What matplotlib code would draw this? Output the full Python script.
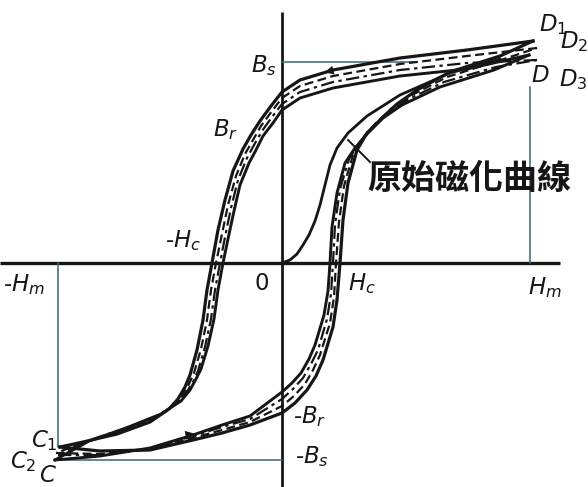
import matplotlib.pyplot as plt

plt.rcParams['mathtext.fontset'] = 'dejavusans'

# H and B in drawing units, origin at the centre of the axes
# loop A: outer solid (D1 - C1)
a_up_h = [251, 185, 118, 51, 18, 0, -11, -22, -31, -39, -49, -57, -64, -70, -75, -79, -85, -92, -97, -104, -113, -132, -165, -199, -222]
a_up_b = [222, 213, 205, 193, 183, 171, 157, 142, 128, 114, 92, 63, 33, 0, -27, -57, -87, -112, -124, -136, -146, -159, -171, -179, -184]
a_lo_h = [-222, -182, -132, -89, -60, -32, 0, 13, 25, 34, 41, 51, 55, 58, 61, 66, 75, 85, 98, 115, 135, 168, 218, 251]
a_lo_b = [-184, -188, -187, -177, -170, -162, -150, -140, -127, -113, -97, -64, -37, 0, 43, 80, 113, 130, 143, 159, 173, 191, 207, 222]

# loop B: dashed (D2 - C2)
b_up_h = [255, 185, 118, 51, 18, 0, -10, -21, -29, -37, -46, -54, -60, -66, -71, -75, -81, -88, -93, -100, -109, -128, -162, -197, -226]
b_up_b = [215, 207, 199, 187, 177, 165, 152, 137, 123, 109, 87, 58, 29, 0, -27, -57, -86, -110, -121, -133, -143, -156, -169, -179, -190]
b_lo_h = [-226, -182, -132, -89, -60, -32, 0, 12, 23, 31, 38, 48, 52, 54, 57, 62, 71, 81, 93, 110, 130, 165, 216, 255]
b_lo_b = [-190, -191, -186, -175, -167, -159, -143, -133, -121, -107, -92, -60, -34, 0, 41, 77, 108, 125, 139, 155, 168, 186, 202, 215]

# loop C: dash-dot (D3)
c_up_h = [255, 185, 118, 51, 18, 0, -10, -20, -28, -35, -44, -51, -57, -62, -67, -71, -77, -84, -89, -96, -105, -124, -159, -195, -224]
c_up_b = [203, 200, 193, 181, 171, 159, 146, 132, 118, 105, 83, 55, 26, 0, -27, -56, -84, -108, -119, -130, -140, -153, -166, -178, -192]
c_lo_h = [-224, -182, -132, -89, -60, -32, 0, 11, 21, 29, 36, 45, 49, 51, 53, 58, 67, 77, 89, 106, 125, 162, 214, 255]
c_lo_b = [-192, -192, -186, -173, -164, -156, -136, -126, -115, -101, -87, -56, -31, 0, 38, 74, 104, 120, 134, 150, 163, 181, 196, 203]

# loop D: inner solid (D - C)
d_up_h = [247, 185, 118, 51, 18, 0, -9, -19, -26, -33, -42, -48, -54, -59, -64, -68, -74, -81, -86, -92, -101, -121, -156, -193, -227]
d_up_b = [208, 194, 187, 175, 165, 153, 140, 127, 113, 100, 78, 52, 24, 0, -27, -56, -83, -106, -116, -127, -138, -151, -165, -178, -197]
d_lo_h = [-227, -182, -132, -89, -60, -32, 0, 10, 19, 27, 33, 42, 46, 48, 50, 55, 63, 73, 85, 101, 120, 158, 212, 247]
d_lo_b = [-197, -193, -185, -172, -162, -153, -129, -120, -110, -96, -82, -52, -28, 0, 36, 70, 100, 115, 129, 145, 158, 176, 193, 208]

# initial magnetization curve
init_h = [0, 8, 15, 21, 27, 33, 38, 43, 48, 55, 66, 85, 118, 168, 218]
init_b = [0, 3, 9, 18, 28, 42, 58, 78, 98, 115, 130, 147, 168, 190, 204]

h_m, b_s = 248, 201
neg_h_m, neg_b_s = -224, -197

ink = '#161616'
thin = '#3a6472'

fig = plt.figure(figsize=(5.88, 4.87), dpi=100)
ax = fig.add_axes([0, 0, 1, 1])
ax.set_xlim(-282, 306)
ax.set_ylim(-224, 263)
ax.axis('off')

# axes
ax.plot([-282, 278], [0, 0], color=ink, lw=2.4, solid_capstyle='butt')
ax.plot([0, 0], [-224, 251], color=ink, lw=2.0, solid_capstyle='butt')

# guide lines for Hm, Bs
ax.plot([h_m, h_m], [0, 176], color=thin, lw=1.1)
ax.plot([0, 133], [b_s, b_s], color=thin, lw=1.1)
ax.plot([neg_h_m, neg_h_m], [0, -184], color=thin, lw=1.1)
ax.plot([neg_h_m, 0], [neg_b_s, neg_b_s], color=thin, lw=1.1)

loops = [
    (a_up_h, a_up_b, a_lo_h, a_lo_b, '-', 2.3),
    (b_up_h, b_up_b, b_lo_h, b_lo_b, (0, (4, 2)), 1.6),
    (c_up_h, c_up_b, c_lo_h, c_lo_b, (0, (6, 2, 1.5, 2)), 1.6),
    (d_up_h, d_up_b, d_lo_h, d_lo_b, '-', 2.1),
]
for uh, ub, lh, lb, ls, lw in loops:
    ax.plot(uh, ub, color=ink, lw=lw, ls=ls, solid_joinstyle='round')
    ax.plot(lh, lb, color=ink, lw=lw, ls=ls, solid_joinstyle='round')

ax.plot(init_h, init_b, color=ink, lw=2.0, solid_joinstyle='round')

# direction arrows on the loop
for (x0, y0), (x1, y1) in [((60, 195), (40, 190)), ((-105, -174), (-85, -170))]:
    ax.annotate('', xy=(x1, y1), xytext=(x0, y0),
                arrowprops=dict(arrowstyle='-|>', color=ink, lw=0,
                                mutation_scale=16))

# leader to the initial curve
ax.plot([88, 66], [101, 123], color=ink, lw=1.4)
ax.text(85, 85, '原始磁化曲線', fontsize=24.5, fontweight='bold',
        family=['Noto Sans CJK TC', 'DejaVu Sans'], color=ink,
        ha='left', va='center')

labels = [
    (-18, 197, r'$B_s$'), (-56, 133, r'$B_r$'), (-99, 22, r'-$H_c$'),
    (-20, -20, r'$0$'), (80, -21, r'$H_c$'), (263, -25, r'$H_m$'),
    (-258, -22, r'-$H_m$'), (28, -154, r'-$B_r$'), (30, -194, r'-$B_s$'),
    (-238, -178, r'$C_1$'), (-259, -199, r'$C_2$'), (-234, -213, r'$C$'),
    (271, 238, r'$D_1$'), (292, 221, r'$D_2$'), (258, 188, r'$D$'),
    (291, 183, r'$D_3$'),
]
for x, y, s in labels:
    ax.text(x, y, s, fontsize=16.5, color=ink, ha='center', va='center')

fig.savefig('out.png', dpi=100, facecolor='white')
